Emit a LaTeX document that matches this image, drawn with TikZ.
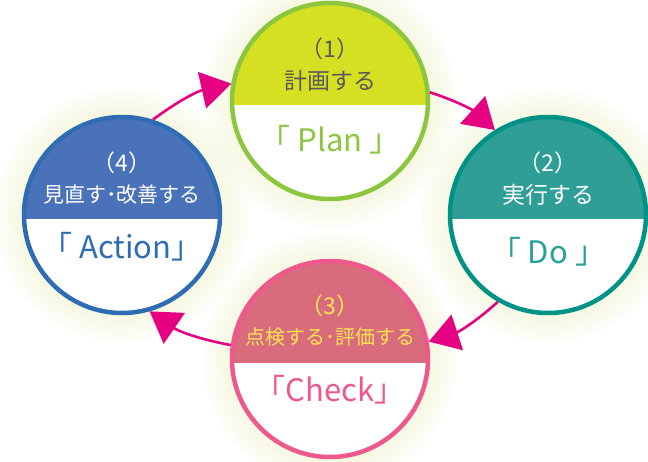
\documentclass[tikz,border=0pt]{standalone}
\usepackage{fontspec}
\setmainfont{Noto Sans CJK JP}
\usetikzlibrary{arrows.meta}
\definecolor{arrowc}{RGB}{230,0,130}
\definecolor{glowc}{RGB}{236,241,196}
\definecolor{planline}{RGB}{140,198,63}
\definecolor{plantop}{RGB}{212,224,33}
\definecolor{doline}{RGB}{0,146,135}
\definecolor{dotop}{RGB}{46,158,150}
\definecolor{checkline}{RGB}{238,88,140}
\definecolor{checktop}{RGB}{216,108,125}
\definecolor{checktext}{RGB}{255,228,80}
\definecolor{actline}{RGB}{46,109,180}
\definecolor{acttop}{RGB}{74,114,184}
\tikzset{
  phase/.style 2 args={circle, minimum size=196pt, inner sep=0pt, draw=#1, line width=4.5pt, fill=white,
    path picture={\fill[#2] ([yshift=-4pt]path picture bounding box.west) rectangle (path picture bounding box.north east);}},
  stagenum/.style={font=\fontsize{23}{23}\selectfont, inner sep=0pt},
  stagename/.style={font=\fontsize{31}{31}\selectfont, inner sep=0pt},
  flow/.style={draw=arrowc, line width=2.6pt, -{Triangle[length=30pt,width=37pt]}},
}
\begin{document}
\begin{tikzpicture}[x=1pt,y=-1pt]
\useasboundingbox (0,0) rectangle (648,461);
\foreach \c in {(330,101),(548,215),(330,359),(122,215)}
  \foreach \r in {126,120,...,100}
    \fill[glowc, opacity=0.13] \c circle (\r);
\node[phase={planline}{plantop}] (plan) at (330,101) {};
\node[phase={doline}{dotop}] (do) at (548,215) {};
\node[phase={checkline}{checktop}] (check) at (330,359) {};
\node[phase={actline}{acttop}] (act) at (122,215) {};
\node[stagenum, text=black!65] (plannum) at ([yshift=52pt]plan.center) {（1）};
\node[stagenum, text=black!65] (plantxt) at ([yshift=20pt]plan.center) {計画する};
\node[stagename, text=planline] (planname) at ([yshift=-39pt]plan.center) {「 Plan 」};
\node[stagenum, text=white] (donum) at ([yshift=52pt]do.center) {（2）};
\node[stagenum, text=white] (dotxt) at ([yshift=20pt]do.center) {実行する};
\node[stagename, text=doline!85] (doname) at ([yshift=-37pt]do.center) {「 Do 」};
\node[stagenum, text=checktext] (checknum) at ([yshift=53pt]check.center) {（3）};
\node[stagenum, text=checktext, font=\fontsize{20}{20}\selectfont] (checktxt) at ([yshift=22pt]check.center) {点検する･評価する};
\node[stagename, text=checkline] (checkname) at ([yshift=-31pt]check.center) {「Check」};
\node[stagenum, text=white] (actnum) at ([yshift=52pt]act.center) {（4）};
\node[stagenum, text=white, font=\fontsize{21}{21}\selectfont] (acttxt) at ([yshift=20pt]act.center) {見直す･改善する};
\node[stagename, text=actline] (actname) at ([yshift=-32pt]act.center) {「 Action」};
\draw[flow] (act.72) to[bend left=12] (plan.170);
\draw[flow] (plan.5) to[bend left=12] (do.122);
\draw[flow] (do.240) to[bend left=12] (check.10);
\draw[flow] (check.172) to[bend left=12] (act.286);
\end{tikzpicture}
\end{document}
